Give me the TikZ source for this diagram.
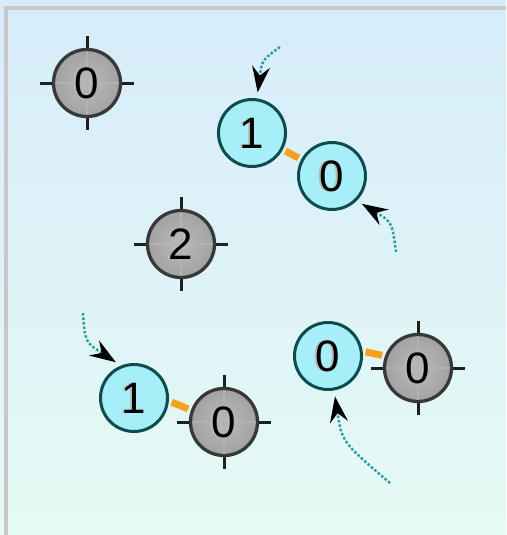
\documentclass[tikz,border=0pt]{standalone}
\usepackage{fontspec}
\setmainfont{Liberation Sans}
\usetikzlibrary{arrows.meta}
\definecolor{bgtop}{HTML}{D6ECFA}
\definecolor{bgbot}{HTML}{E6FAF4}
\definecolor{framegray}{HTML}{C8C8C8}
\definecolor{cyanfill}{HTML}{A6EEF8}
\definecolor{cyanedge}{HTML}{0D4C4C}
\definecolor{grayedge}{HTML}{383838}
\definecolor{grayin}{HTML}{BABABA}
\definecolor{grayout}{HTML}{A2A2A2}
\definecolor{linkor}{HTML}{F5A21A}
\definecolor{flowteal}{HTML}{2A9CA4}
\newcommand\dg[1]{\rlap{\kern-2.5pt\textcolor{black!28}{#1}}#1}
\tikzset{
  basenode/.style={circle, minimum size=67pt, inner sep=0pt, line width=3pt,
    font=\fontsize{44}{44}\selectfont},
  cnode/.style={basenode, draw=cyanedge, fill=cyanfill},
  gnode/.style={basenode, draw=grayedge, line width=3.3pt, inner color=grayin, outer color=grayout,
    path picture={\draw[line width=1.5pt, black!30]
      (path picture bounding box.west) -- (path picture bounding box.east)
      (path picture bounding box.north) -- (path picture bounding box.south);}},
  ticks/.style={line width=3pt, black!88},
  link/.style={line width=7pt, linkor, shorten <=3pt, shorten >=3pt},
  flow/.style={line width=2.5pt, flowteal, dash pattern=on 2.5pt off 2pt,
    shorten >=6pt, -{Stealth[length=26pt,width=18pt,inset=9pt,color=black]}}
}
\newcommand\crosshair[1]{\draw[ticks] (#1) ++(-47,0) -- ++(94,0) (#1) ++(0,-47) -- ++(0,94);}
\newcommand\target[3]{\crosshair{#2}\node[gnode] (#1) at (#2) {\dg{#3}};}
\begin{document}
\begin{tikzpicture}[x=1pt,y=-1pt]
\useasboundingbox (0,0) rectangle (506,535);
\begin{scope}[y=1pt]
  \shade[top color=bgtop, bottom color=bgbot] (0,0) rectangle (506,-535);
\end{scope}
\fill[framegray] (4,6) rectangle (8,535);
\fill[framegray] (4,6) rectangle (506,10);

% gray targets
\target{g1}{87,83}{0}
\target{g2}{181,244}{2}
\target{g3}{224,422}{0}
\target{g4}{418,368}{0}

% cyan nodes
\node[cnode] (c1) at (252,133) {\dg{1}};
\node[cnode] (c2) at (332,176) {\dg{0}};
\node[cnode] (c3) at (134,398) {\dg{1}};
\node[cnode] (c4) at (328,356) {\dg{0}};

% orange links
\draw[link] (c1) -- (c2);
\draw[link] (c3.-5) -- (g3.160);
\draw[link] (c4.8) -- (g4.160);

% incoming flows
\coordinate (s1) at (280,47);
\coordinate (s2) at (396,252);
\coordinate (s3) at (83,313);
\coordinate (s4) at (390,483);
\draw[flow] (s1) .. controls (262,60) .. (c1.82);
\draw[flow] (s2) .. controls (392,222) .. (c2.-45);
\draw[flow] (s3) .. controls (85,342) .. (c3.112);
\draw[flow] (s4) .. controls (342,442) .. (c4.-80);
\end{tikzpicture}
\end{document}
